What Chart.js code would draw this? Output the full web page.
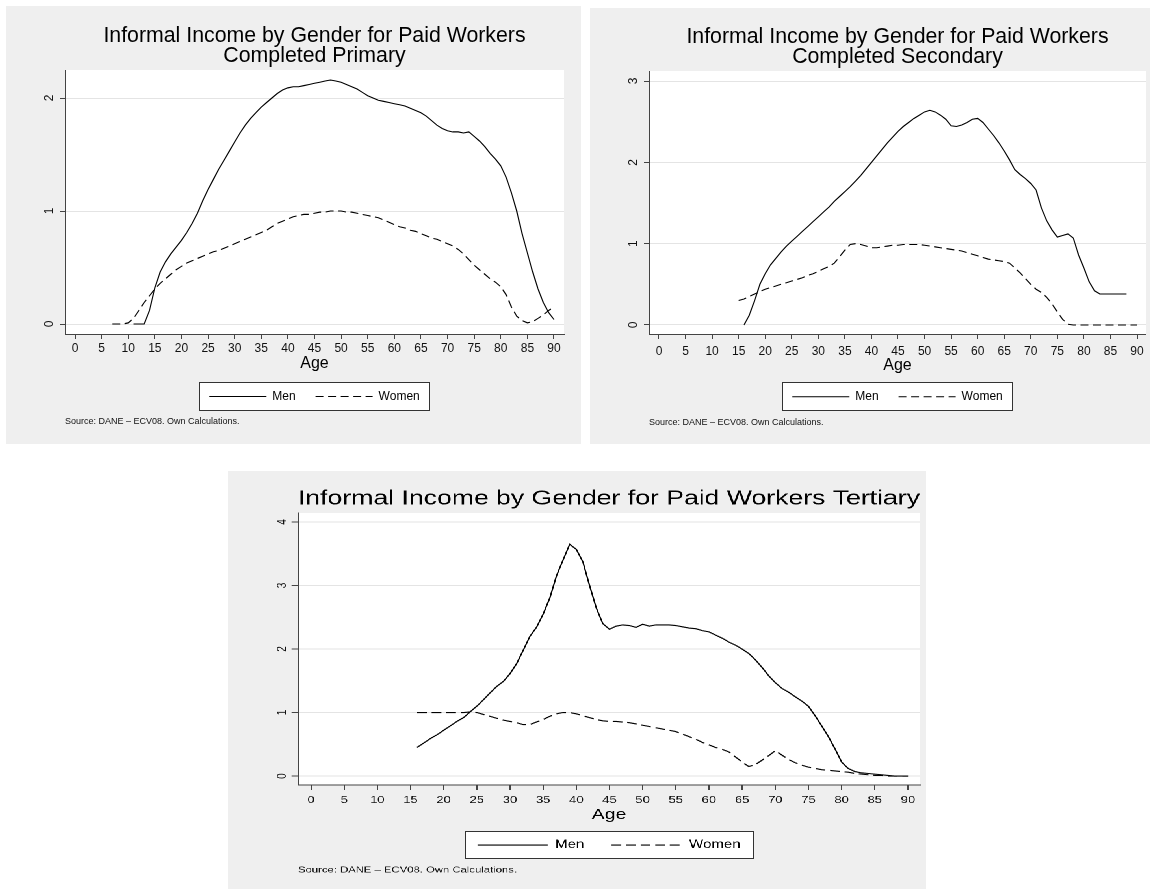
<!DOCTYPE html>
<html>
<head>
<meta charset="utf-8">
<title>Informal Income by Gender for Paid Workers</title>
<script src="https://cdn.jsdelivr.net/npm/chart.js@4.4.1/dist/chart.umd.min.js"></script>
<style>
  html, body { margin: 0; padding: 0; background: #ffffff; }
  body { width: 1156px; height: 889px; position: relative; overflow: hidden; }
  .panel { position: absolute; background: #efefef; transform-origin: 0 0; }
  .panel canvas { display: block; }
</style>
</head>
<body>
<div class="panel" id="panelPrimary" style="left:6px; top:6px; width:575px; height:438px;"><canvas id="chartPrimary"></canvas></div>
<div class="panel" id="panelSecondary" style="left:590px; top:8px; width:560px; height:436px;"><canvas id="chartSecondary"></canvas></div>
<div class="panel" id="panelTertiary" style="left:228px; top:471px; width:537px; height:418px; transform:scaleX(1.3);"><canvas id="chartTertiary"></canvas></div>

<script>
// ---------- Shared text and tick labels ----------
const FONT = "'Liberation Sans', Arial, Helvetica, sans-serif";
const TITLE_MAIN = 'Informal Income by Gender for Paid Workers';
const SOURCE_NOTE = 'Source: DANE \u2013 ECV08. Own Calculations.';
const AGE_TICKS = [0, 5, 10, 15, 20, 25, 30, 35, 40, 45, 50, 55, 60, 65, 70, 75, 80, 85, 90];
const PRIMARY_INCOME_TICKS = [0, 1, 2];
const SECONDARY_INCOME_TICKS = [0, 1, 2, 3];
const TERTIARY_INCOME_TICKS = [0, 1, 2, 3, 4];
const SERIES_NAMES = ['Men', 'Women'];

// ---------- Completed primary ----------
const primaryMenAge = [11, 12, 13, 14, 15, 16, 17, 18, 19, 20, 21, 22, 23, 24, 25, 26, 27, 28, 29, 30,
  31, 32, 33, 34, 35, 36, 37, 38, 39, 40, 41, 42, 43, 44, 45, 46, 47, 48, 49, 50,
  51, 52, 53, 54, 55, 56, 57, 58, 59, 60, 61, 62, 63, 64, 65, 66, 67, 68, 69, 70,
  71, 72, 73, 74, 75, 76, 77, 78, 79, 80, 81, 82, 83, 84, 85, 86, 87, 88, 89, 90];
const primaryMen = [0, 0, 0, 0.12, 0.32, 0.46, 0.55, 0.62, 0.68, 0.74, 0.81, 0.89, 0.98, 1.09, 1.19, 1.28, 1.37, 1.45, 1.53, 1.61,
  1.69, 1.76, 1.82, 1.87, 1.92, 1.96, 2.00, 2.04, 2.07, 2.09, 2.10, 2.10, 2.11, 2.12, 2.13, 2.14, 2.15, 2.16, 2.15, 2.14,
  2.12, 2.10, 2.08, 2.05, 2.02, 2.00, 1.98, 1.97, 1.96, 1.95, 1.94, 1.93, 1.91, 1.89, 1.87, 1.84, 1.80, 1.76, 1.73, 1.71,
  1.70, 1.70, 1.69, 1.70, 1.66, 1.62, 1.57, 1.51, 1.46, 1.40, 1.30, 1.16, 1.00, 0.80, 0.63, 0.46, 0.31, 0.19, 0.10, 0.04];
const primaryWomenAge = [7, 8, 9, 10, 11, 12, 13, 14, 15, 16, 17, 18, 19, 20, 21, 22, 23, 24, 25, 26,
  27, 28, 29, 30, 31, 32, 33, 34, 35, 36, 37, 38, 39, 40, 41, 42, 43, 44, 45, 46,
  47, 48, 49, 50, 51, 52, 53, 54, 55, 56, 57, 58, 59, 60, 61, 62, 63, 64, 65, 66,
  67, 68, 69, 70, 71, 72, 73, 74, 75, 76, 77, 78, 79, 80, 81, 82, 83, 84, 85, 86,
  87, 88, 89, 90];
const primaryWomen = [0, 0, 0, 0.01, 0.05, 0.12, 0.19, 0.25, 0.31, 0.36, 0.40, 0.44, 0.48, 0.51, 0.54, 0.56, 0.58, 0.60, 0.62, 0.64,
  0.65, 0.67, 0.69, 0.71, 0.73, 0.75, 0.77, 0.79, 0.81, 0.83, 0.86, 0.89, 0.91, 0.93, 0.95, 0.96, 0.97, 0.97, 0.98, 0.99,
  0.99, 1.00, 1.00, 1.00, 0.99, 0.99, 0.98, 0.97, 0.96, 0.95, 0.94, 0.92, 0.90, 0.88, 0.86, 0.85, 0.83, 0.82, 0.80, 0.78,
  0.76, 0.75, 0.73, 0.71, 0.69, 0.66, 0.62, 0.57, 0.52, 0.48, 0.44, 0.40, 0.37, 0.33, 0.26, 0.15, 0.07, 0.03, 0.01, 0.02,
  0.05, 0.08, 0.12, 0.15];

// ---------- Completed secondary ----------
const secondaryMenAge = [16, 17, 18, 19, 20, 21, 22, 23, 24, 25, 26, 27, 28, 29, 30, 31, 32, 33, 34, 35,
  36, 37, 38, 39, 40, 41, 42, 43, 44, 45, 46, 47, 48, 49, 50, 51, 52, 53, 54, 55,
  56, 57, 58, 59, 60, 61, 62, 63, 64, 65, 66, 67, 68, 69, 70, 71, 72, 73, 74, 75,
  76, 77, 78, 79, 80, 81, 82, 83, 84, 85, 86, 87, 88];
const secondaryMen = [0, 0.12, 0.30, 0.50, 0.63, 0.74, 0.82, 0.90, 0.97, 1.03, 1.09, 1.15, 1.21, 1.27, 1.33, 1.39, 1.45, 1.52, 1.58, 1.64,
  1.70, 1.77, 1.84, 1.92, 2.00, 2.08, 2.16, 2.24, 2.31, 2.38, 2.44, 2.49, 2.54, 2.58, 2.62, 2.64, 2.62, 2.58, 2.53, 2.45,
  2.44, 2.46, 2.49, 2.53, 2.54, 2.49, 2.41, 2.33, 2.24, 2.14, 2.03, 1.91, 1.85, 1.80, 1.74, 1.66, 1.44, 1.28, 1.17, 1.08,
  1.10, 1.12, 1.07, 0.86, 0.70, 0.53, 0.42, 0.38, 0.38, 0.38, 0.38, 0.38, 0.38];
const secondaryWomenAge = [15, 16, 17, 18, 19, 20, 21, 22, 23, 24, 25, 26, 27, 28, 29, 30, 31, 32, 33, 34,
  35, 36, 37, 38, 39, 40, 41, 42, 43, 44, 45, 46, 47, 48, 49, 50, 51, 52, 53, 54,
  55, 56, 57, 58, 59, 60, 61, 62, 63, 64, 65, 66, 67, 68, 69, 70, 71, 72, 73, 74,
  75, 76, 77, 78, 79, 80, 81, 82, 83, 84, 85, 86, 87, 88, 89, 90];
const secondaryWomen = [0.30, 0.32, 0.35, 0.38, 0.41, 0.44, 0.46, 0.48, 0.50, 0.52, 0.54, 0.56, 0.58, 0.61, 0.63, 0.66, 0.69, 0.72, 0.76, 0.84,
  0.92, 0.99, 1.00, 0.99, 0.97, 0.95, 0.95, 0.96, 0.97, 0.98, 0.98, 0.99, 0.99, 0.99, 0.99, 0.98, 0.97, 0.96, 0.95, 0.94,
  0.93, 0.92, 0.91, 0.89, 0.87, 0.85, 0.83, 0.81, 0.80, 0.79, 0.78, 0.76, 0.70, 0.64, 0.57, 0.50, 0.44, 0.40, 0.34, 0.26,
  0.16, 0.07, 0.01, 0, 0, 0, 0, 0, 0, 0, 0, 0, 0, 0, 0, 0];

// ---------- Tertiary ----------
const tertiaryMenAge = [16, 17, 18, 19, 20, 21, 22, 23, 24, 25, 26, 27, 28, 29, 30, 31, 32, 33, 34, 35,
  36, 37, 38, 39, 40, 41, 42, 43, 44, 45, 46, 47, 48, 49, 50, 51, 52, 53, 54, 55,
  56, 57, 58, 59, 60, 61, 62, 63, 64, 65, 66, 67, 68, 69, 70, 71, 72, 73, 74, 75,
  76, 77, 78, 79, 80, 81, 82, 83, 84, 85, 86, 87, 88, 89, 90];
const tertiaryMen = [0.45, 0.52, 0.59, 0.65, 0.72, 0.79, 0.86, 0.92, 1.01, 1.10, 1.20, 1.31, 1.41, 1.49, 1.61, 1.77, 1.98, 2.20, 2.34, 2.55,
  2.80, 3.15, 3.40, 3.65, 3.57, 3.37, 3.00, 2.65, 2.40, 2.31, 2.36, 2.38, 2.37, 2.34, 2.39, 2.36, 2.38, 2.38, 2.38, 2.37,
  2.35, 2.33, 2.32, 2.29, 2.27, 2.22, 2.17, 2.11, 2.06, 2.00, 1.93, 1.83, 1.71, 1.58, 1.47, 1.38, 1.32, 1.25, 1.18, 1.10,
  0.95, 0.79, 0.62, 0.43, 0.22, 0.12, 0.07, 0.05, 0.04, 0.03, 0.02, 0.01, 0, 0, 0];
const tertiaryWomenAge = [16, 17, 18, 19, 20, 21, 22, 23, 24, 25, 26, 27, 28, 29, 30, 31, 32, 33, 34, 35,
  36, 37, 38, 39, 40, 41, 42, 43, 44, 45, 46, 47, 48, 49, 50, 51, 52, 53, 54, 55,
  56, 57, 58, 59, 60, 61, 62, 63, 64, 65, 66, 67, 68, 69, 70, 71, 72, 73, 74, 75,
  76, 77, 78, 79, 80, 81, 82, 83, 84, 85, 86, 87, 88, 89, 90];
const tertiaryWomen = [1.00, 1.00, 1.00, 1.00, 1.00, 1.00, 1.00, 1.00, 1.01, 1.00, 0.97, 0.94, 0.91, 0.88, 0.86, 0.84, 0.81, 0.81, 0.85, 0.89,
  0.94, 0.98, 1.00, 1.00, 0.98, 0.95, 0.92, 0.89, 0.87, 0.86, 0.86, 0.85, 0.84, 0.82, 0.80, 0.78, 0.76, 0.74, 0.72, 0.70,
  0.66, 0.62, 0.58, 0.53, 0.49, 0.45, 0.42, 0.38, 0.30, 0.22, 0.15, 0.18, 0.25, 0.32, 0.40, 0.33, 0.26, 0.21, 0.17, 0.14,
  0.12, 0.10, 0.09, 0.08, 0.07, 0.06, 0.04, 0.03, 0.02, 0.01, 0.01, 0, 0, 0, 0];

// ---------- Drawing helpers ----------
Chart.defaults.font.family = FONT;

function pairUp(ages, values) {
  return ages.map((a, i) => ({ x: a, y: values[i] }));
}

// White plot region plus the framed legend box, painted beneath everything else.
const stataFrame = {
  id: 'stataFrame',
  beforeDraw(chart, args, opts) {
    const { ctx, chartArea: a, legend } = chart;
    ctx.save();
    ctx.fillStyle = '#ffffff';
    ctx.fillRect(a.left, a.top, a.right - a.left, a.bottom - a.top);
    const boxes = legend && legend.legendHitBoxes;
    if (boxes && boxes.length) {
      const first = boxes[0];
      const last = boxes[boxes.length - 1];
      const yc = first.top + first.height / 2;
      const x0 = Math.round(first.left - opts.padLeft) + 0.5;
      const x1 = Math.round(last.left + last.width + opts.padRight) + 0.5;
      const y0 = Math.round(yc - opts.above) + 0.5;
      const y1 = Math.round(yc + opts.below) + 0.5;
      ctx.fillRect(x0, y0, x1 - x0, y1 - y0);
      ctx.strokeStyle = '#333333';
      ctx.lineWidth = 1;
      ctx.strokeRect(x0, y0, x1 - x0, y1 - y0);
    }
    ctx.restore();
  }
};

function buildPanel(canvasId, p) {
  return new Chart(document.getElementById(canvasId), {
    type: 'line',
    data: {
      datasets: [
        {
          label: SERIES_NAMES[0],
          data: pairUp(p.menAge, p.men),
          borderColor: '#000000', borderWidth: 1.1, borderDash: [],
          pointRadius: 0, pointHoverRadius: 0, tension: 0, fill: false
        },
        {
          label: SERIES_NAMES[1],
          data: pairUp(p.womenAge, p.women),
          borderColor: '#000000', borderWidth: 1.1, borderDash: p.dash,
          pointRadius: 0, pointHoverRadius: 0, tension: 0, fill: false
        }
      ]
    },
    options: {
      responsive: true,
      maintainAspectRatio: false,
      animation: false,
      events: [],
      devicePixelRatio: p.dpr,
      layout: { padding: { left: 0, top: 0, right: p.padRight, bottom: p.padBottom } },
      scales: {
        x: {
          type: 'linear', position: 'bottom', bounds: 'data',
          min: p.xMin, max: p.xMax,
          afterBuildTicks: s => { s.ticks = AGE_TICKS.map(v => ({ value: v })); },
          afterFit: s => { s.height = p.xAxisHeight; },
          ticks: {
            autoSkip: false, maxRotation: 0, minRotation: 0, padding: p.xTickPad,
            color: '#111111', font: { size: p.tickSize, lineHeight: 1 }
          },
          grid: { drawOnChartArea: false, drawTicks: true, tickLength: p.tickLen, tickColor: '#444444', tickWidth: 1 },
          border: { display: true, color: '#444444', width: 1 },
          title: {
            display: true, text: 'Age', color: '#000000',
            font: { size: p.ageSize, lineHeight: p.ageLineHeight },
            padding: { top: 0, bottom: 0 }
          }
        },
        y: {
          type: 'linear', position: 'left', bounds: 'data',
          min: p.yMin, max: p.yMax,
          afterBuildTicks: s => { s.ticks = p.yTicks.map(v => ({ value: v })); },
          afterFit: s => { s.width = p.yAxisWidth; },
          ticks: {
            minRotation: 90, maxRotation: 90, crossAlign: 'center', padding: p.yTickPad,
            color: '#111111', font: { size: p.tickSize, lineHeight: 1 }
          },
          grid: { color: '#e4e4e4', lineWidth: 1, drawTicks: true, tickLength: p.tickLen, tickColor: '#444444', tickWidth: 1 },
          border: { display: true, color: '#444444', width: 1 }
        }
      },
      plugins: {
        title: {
          display: true, text: p.title, fullSize: false, color: '#000000',
          font: { size: p.titleSize, weight: 'normal', lineHeight: p.titleLineHeight },
          padding: { top: p.titlePadTop, bottom: p.titlePadBottom }
        },
        subtitle: {
          display: true, position: 'bottom', align: 'start', fullSize: false,
          text: SOURCE_NOTE, color: '#111111',
          font: { size: p.sourceSize, weight: 'normal', lineHeight: '10px' },
          padding: { top: p.sourcePadTop, bottom: 0 }
        },
        legend: {
          display: true, position: 'bottom', fullSize: false, align: 'center',
          labels: {
            usePointStyle: true, pointStyle: 'line', pointStyleWidth: p.sampleWidth,
            color: '#000000', font: { size: p.legendSize }, padding: p.legendPad,
            generateLabels(chart) {
              const items = Chart.defaults.plugins.legend.labels.generateLabels(chart);
              items.forEach(it => {
                const ds = chart.data.datasets[it.datasetIndex];
                it.lineDash = ds.borderDash || [];
                it.lineWidth = ds.borderWidth;
                it.strokeStyle = ds.borderColor;
                it.pointStyle = 'line';
              });
              return items;
            }
          }
        },
        tooltip: { enabled: false },
        stataFrame: p.legendFrame
      }
    },
    plugins: [stataFrame]
  });
}

buildPanel('chartPrimary', {
  title: [TITLE_MAIN, 'Completed Primary'],
  menAge: primaryMenAge, men: primaryMen,
  womenAge: primaryWomenAge, women: primaryWomen,
  yTicks: PRIMARY_INCOME_TICKS,
  xMin: -1.88, xMax: 91.88, yMin: -0.0885, yMax: 2.248,
  dpr: 1, dash: [8, 4.5],
  padRight: 17, padBottom: 17, yAxisWidth: 59, xAxisHeight: 36.5,
  tickLen: 5, tickSize: 12, xTickPad: 3.75, yTickPad: 7,
  ageSize: 16, ageLineHeight: '13px',
  titleSize: 21.3, titleLineHeight: '20px', titlePadTop: 20, titlePadBottom: 4,
  legendSize: 12, legendPad: 20, sampleWidth: 57,
  sourceSize: 9, sourcePadTop: 4.5,
  legendFrame: { padLeft: 10, padRight: 9, above: 15, below: 13 }
});

buildPanel('chartSecondary', {
  title: [TITLE_MAIN, 'Completed Secondary'],
  menAge: secondaryMenAge, men: secondaryMen,
  womenAge: secondaryWomenAge, women: secondaryWomen,
  yTicks: SECONDARY_INCOME_TICKS,
  xMin: -1.88, xMax: 91.69, yMin: -0.111, yMax: 3.123,
  dpr: 1, dash: [8, 4.5],
  padRight: 3, padBottom: 16, yAxisWidth: 59, xAxisHeight: 36.7,
  tickLen: 5, tickSize: 12, xTickPad: 6.25, yTickPad: 7,
  ageSize: 16, ageLineHeight: '11px',
  titleSize: 21.3, titleLineHeight: '20px', titlePadTop: 19, titlePadBottom: 4,
  legendSize: 12, legendPad: 20, sampleWidth: 57,
  sourceSize: 9, sourcePadTop: 5.3,
  legendFrame: { padLeft: 10, padRight: 9, above: 14.5, below: 13.5 }
});

buildPanel('chartTertiary', {
  title: TITLE_MAIN + ' Tertiary',
  menAge: tertiaryMenAge, men: tertiaryMen,
  womenAge: tertiaryWomenAge, women: tertiaryWomen,
  yTicks: TERTIARY_INCOME_TICKS,
  xMin: -1.96, xMax: 91.81, yMin: -0.142, yMax: 4.142,
  dpr: 2, dash: [7.5, 3.7],
  padRight: 4.7, padBottom: 14, yAxisWidth: 53.85, xAxisHeight: 33.25,
  tickLen: 5, tickSize: 10, xTickPad: 5, yTickPad: 4.5,
  ageSize: 15, ageLineHeight: '7.3px',
  titleSize: 20.5, titleLineHeight: '24px', titlePadTop: 16, titlePadBottom: 2,
  legendSize: 11.5, legendPad: 21, sampleWidth: 54,
  sourceSize: 8.7, sourcePadTop: 4.2,
  legendFrame: { padLeft: 10, padRight: 10, above: 14, below: 13.3 }
});
</script>
</body>
</html>
